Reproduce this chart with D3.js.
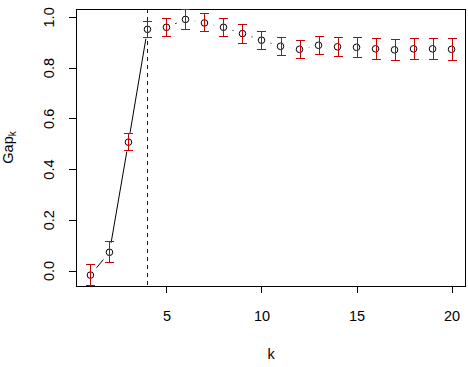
<!DOCTYPE html>
<html><head><meta charset="utf-8">
<script src="https://cdn.jsdelivr.net/npm/d3@7"></script>
<style>
body{margin:0;background:#fff;}
svg{display:block;font-family:"Liberation Sans",Arial,sans-serif;}
</style></head>
<body><svg id="c" width="468" height="367"></svg>
<script>
const ks = [1,2,3,4,5,6,7,8,9,10,11,12,13,14,15,16,17,18,19,20];
const gap = [-0.018,0.072,0.506,0.951,0.959,0.990,0.976,0.959,0.934,0.908,0.884,0.872,0.888,0.882,0.880,0.874,0.870,0.874,0.874,0.872];
const se = [0.043,0.0435,0.0356,0.034,0.0375,0.041,0.0375,0.0375,0.0395,0.0375,0.0375,0.0375,0.0375,0.0395,0.0415,0.0435,0.0435,0.0435,0.0435,0.045];
const xTicks = [5,10,15,20];
const yTicks = [0,0.2,0.4,0.6,0.8,1.0];
const kOpt = 4;

const svg = d3.select("#c");
const L=76, R=466, T=9, B=286;
const FS = 14.5;
const ext = 0.04*(d3.max(ks)-d3.min(ks));
const x = d3.scaleLinear().domain([d3.min(ks)-ext, d3.max(ks)+ext]).range([L,R]);
const ymin = d3.min(gap.map((g,i)=>g-se[i])), ymax = d3.max(gap.map((g,i)=>g+se[i]));
const y = d3.scaleLinear().domain([ymin,ymax]).range([B,T]);

// axes
const ax = svg.append("g").attr("transform",`translate(0,${B})`)
  .call(d3.axisBottom(x).tickValues(xTicks).tickSize(7).tickFormat(d3.format("d")));
ax.select(".domain").remove();
ax.selectAll("line").attr("shape-rendering","crispEdges").attr("stroke","#000");
ax.selectAll("text").attr("font-size",FS).attr("fill","#000").attr("dy",null).attr("y",35);

const ay = svg.append("g").attr("transform",`translate(${L},0)`)
  .call(d3.axisLeft(y).tickValues(yTicks).tickSize(7).tickFormat(d3.format(".1f")));
ay.select(".domain").remove();
ay.selectAll("line").attr("shape-rendering","crispEdges").attr("stroke","#000");
ay.selectAll("text").attr("font-size",FS).attr("fill","#000")
  .attr("x",null).attr("dy",null).attr("text-anchor","middle")
  .attr("transform","translate(-22,0) rotate(-90)");

// box
svg.append("rect").attr("x",L+0.5).attr("y",T+0.5).attr("width",R-L-1).attr("height",B-T)
  .attr("fill","none").attr("stroke","#000").attr("shape-rendering","crispEdges");

// axis titles
svg.append("text").attr("x",(L+R)/2).attr("y",359).attr("text-anchor","middle")
  .attr("font-size",FS).text("k");
const yt = svg.append("text").attr("transform",`translate(13,${(T+B)/2}) rotate(-90)`)
  .attr("text-anchor","middle").attr("font-size",FS);
yt.append("tspan").text("Gap");
yt.append("tspan").attr("font-size",10).attr("dy",3).text("k");

// dashed optimal k line
svg.append("line").attr("x1",Math.round(x(kOpt))+0.5).attr("x2",Math.round(x(kOpt))+0.5)
  .attr("y1",T).attr("y2",B).attr("stroke","#0000FF").attr("stroke-dasharray","4,4")
  .attr("shape-rendering","crispEdges");

// type "b" line segments with gaps
const gp = 9.5;
const segs = [];
for (let i=0;i<ks.length-1;i++){
  const x0=x(ks[i]), y0=y(gap[i]), x1=x(ks[i+1]), y1=y(gap[i+1]);
  const d=Math.hypot(x1-x0,y1-y0);
  if (d>2*gp){
    const ux=(x1-x0)/d, uy=(y1-y0)/d;
    segs.push([x0+ux*gp,y0+uy*gp,x1-ux*gp,y1-uy*gp]);
  }
}
svg.append("g").selectAll("line").data(segs).join("line")
  .attr("x1",d=>d[0]).attr("y1",d=>d[1]).attr("x2",d=>d[2]).attr("y2",d=>d[3])
  .attr("stroke","#000").attr("stroke-width",1);

// points
svg.append("g").selectAll("circle").data(ks).join("circle")
  .attr("cx",(d)=>x(d)).attr("cy",(d,i)=>y(gap[i])).attr("r",3.3)
  .attr("fill","none").attr("stroke","#000").attr("stroke-width",1);

// error bars
const eb = svg.append("g").attr("stroke","#CD0000").attr("shape-rendering","crispEdges");
const cap = 4.5;
ks.forEach((k,i)=>{
  const cx = Math.round(x(k))+0.5;
  const yh = Math.round(y(gap[i]+se[i]))+0.5, yl = Math.round(y(gap[i]-se[i]))-0.5;
  eb.append("line").attr("x1",cx).attr("x2",cx).attr("y1",yh).attr("y2",yl);
  eb.append("line").attr("x1",cx-cap).attr("x2",cx+cap).attr("y1",yh).attr("y2",yh);
  eb.append("line").attr("x1",cx-cap).attr("x2",cx+cap).attr("y1",yl).attr("y2",yl);
});
</script></body></html>
